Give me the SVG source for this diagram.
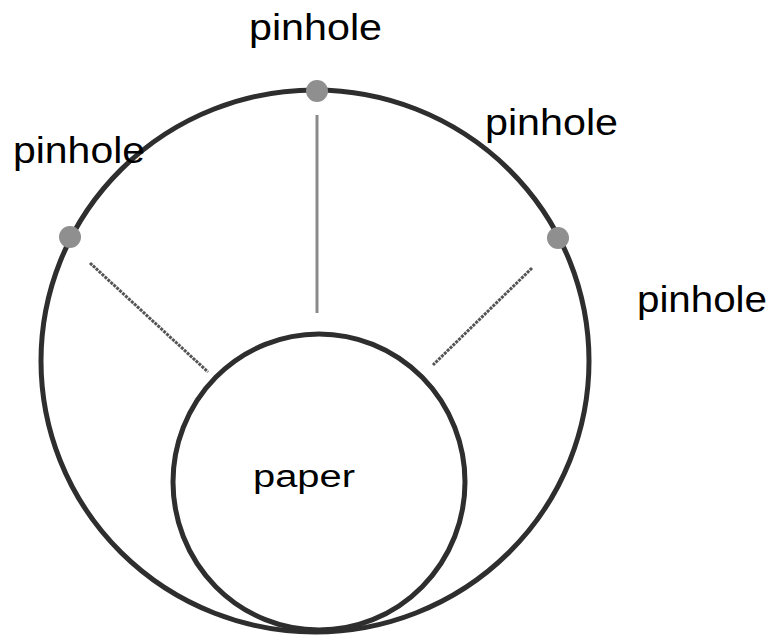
<svg xmlns="http://www.w3.org/2000/svg" width="774" height="642" viewBox="0 0 774 642">
<style>
.lbl{font-family:"Liberation Sans","DejaVu Sans",sans-serif;fill:#000}
.ring{fill:none;stroke:#2e2e2e;stroke-width:5}
.ray{stroke:#555;stroke-width:3;stroke-dasharray:3 1}
.rayv{stroke:#8a8a8a;stroke-width:3}
.hole{fill:#8f8f8f}
</style>
<rect width="774" height="642" fill="#fff"/>
<g id="outer"><ellipse class="ring" cx="315" cy="361" rx="274" ry="271"/></g>
<g id="paper"><ellipse class="ring" cx="319" cy="482" rx="146" ry="148"/>
<text class="lbl" x="253" y="487" font-size="31" textLength="102" lengthAdjust="spacingAndGlyphs">paper</text></g>
<g id="connectors">
<line class="rayv" x1="317" y1="115" x2="317" y2="313"/>
<line class="ray" x1="90" y1="263" x2="208" y2="372"/>
<line class="ray" x1="532" y1="268" x2="433" y2="365"/>
</g>
<g id="pinhole-top"><circle class="hole" cx="317" cy="91" r="11"/>
<text class="lbl" x="249" y="40" font-size="36" textLength="133" lengthAdjust="spacingAndGlyphs">pinhole</text></g>
<g id="pinhole-left"><circle class="hole" cx="70" cy="237" r="11"/>
<text class="lbl" x="13" y="163" font-size="36" textLength="132" lengthAdjust="spacingAndGlyphs">pinhole</text></g>
<g id="pinhole-right"><circle class="hole" cx="558" cy="238" r="11"/>
<text class="lbl" x="485" y="135" font-size="36" textLength="133" lengthAdjust="spacingAndGlyphs">pinhole</text></g>
<g id="pinhole-far"><text class="lbl" x="637" y="312" font-size="36" textLength="130" lengthAdjust="spacingAndGlyphs">pinhole</text></g>
</svg>
